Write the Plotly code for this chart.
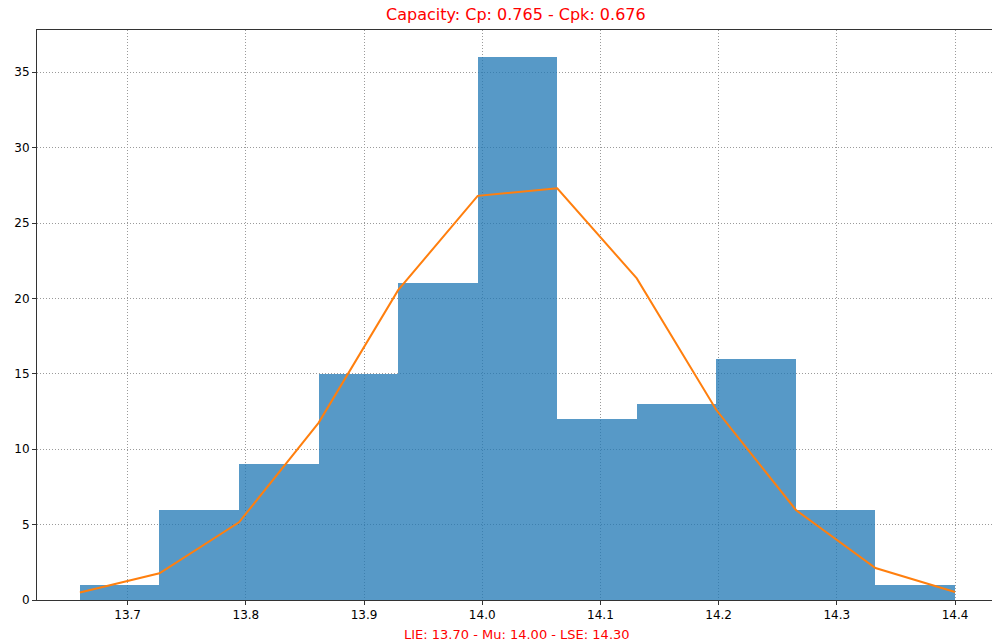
import plotly.graph_objects as go

# Histogram of measurements (bin edges and counts) with fitted normal curve
bin_start = 13.6596
bin_width = 0.06731
counts = [1, 6, 9, 15, 21, 36, 12, 13, 16, 6, 1]
curve_values = [0.5, 1.77, 5.15, 11.75, 20.55, 26.8, 27.3, 21.33, 12.6, 5.97, 2.12, 0.53]

title_text = "Capacity: Cp: 0.765 - Cpk: 0.676"
xlabel_text = "LIE: 13.70 - Mu: 14.00 - LSE: 14.30"
x_ticks = [13.7, 13.8, 13.9, 14.0, 14.1, 14.2, 14.3, 14.4]
y_ticks = [0, 5, 10, 15, 20, 25, 30, 35]

edges = [bin_start + i * bin_width for i in range(len(counts) + 1)]
lefts = edges[:-1]

fig = go.Figure()
fig.add_trace(go.Bar(
    x=lefts, y=counts, width=bin_width, offset=0,
    marker=dict(color="rgba(31,119,180,0.75)", line=dict(width=0)),
    showlegend=False, hoverinfo="y",
))
fig.add_trace(go.Scatter(
    x=edges, y=curve_values, mode="lines",
    line=dict(color="#ff7f0e", width=2),
    showlegend=False,
))

font_family = "DejaVu Sans"
grid_style = dict(showgrid=True, gridcolor="#9a9a9a", griddash="1px,2px", gridwidth=1)
fig.update_layout(
    width=992, height=644,
    margin=dict(l=37, r=0, t=30, b=44),
    paper_bgcolor="white", plot_bgcolor="white",
    bargap=0,
    font=dict(family=font_family, size=12, color="black"),
    xaxis=dict(
        range=[13.6233, 14.4313],
        tickvals=x_ticks, ticktext=[f"{v:.1f}" for v in x_ticks],
        showline=True, linecolor="#333333", linewidth=1, mirror=True,
        ticks="outside", ticklen=4, tickcolor="#333333",
        zeroline=False, **grid_style,
    ),
    yaxis=dict(
        range=[0, 37.8],
        tickvals=y_ticks,
        showline=True, linecolor="#333333", linewidth=1,
        ticks="outside", ticklen=4, tickcolor="#333333",
        zeroline=False, **grid_style,
    ),
    annotations=[
        dict(text=title_text, xref="paper", yref="paper",
             x=(516 - 37) / 955, y=1, yshift=4, xanchor="center", yanchor="bottom",
             showarrow=False, font=dict(family=font_family, size=16, color="red")),
        dict(text=xlabel_text, xref="paper", yref="paper",
             x=(517 - 37) / 955, y=0, yshift=-25, xanchor="center", yanchor="top",
             showarrow=False, font=dict(family=font_family, size=13, color="red")),
    ],
)

fig.write_html("out.html")
